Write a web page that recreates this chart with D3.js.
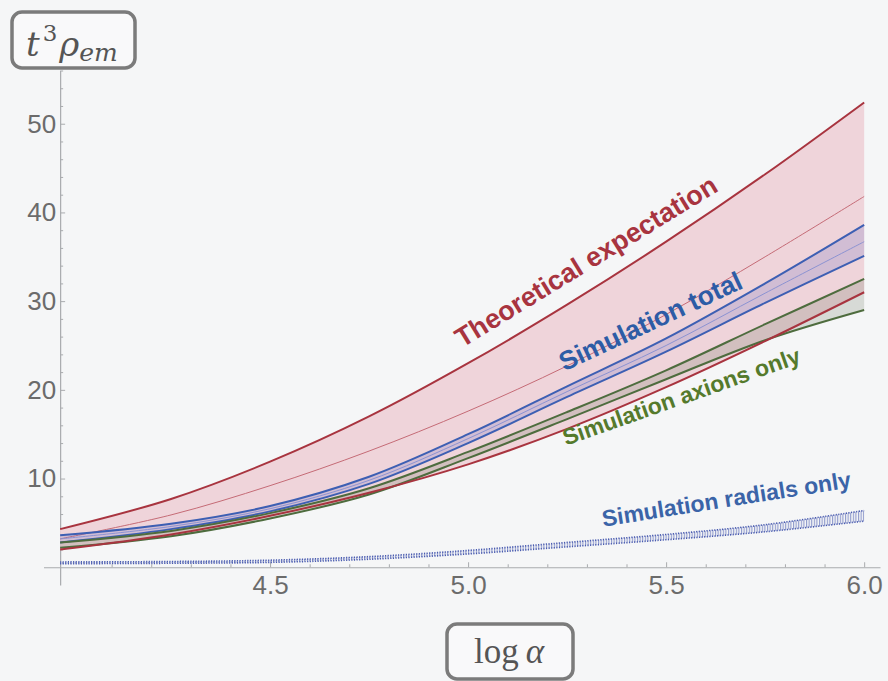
<!DOCTYPE html>
<html>
<head>
<meta charset="utf-8">
<script src="https://cdn.jsdelivr.net/npm/d3@7"></script>
<style>
  body { margin: 0; background: #f5f6f7; }
  svg { display: block; }
</style>
</head>
<body>
<div id="plot"></div>
<script>
// sample points along log(alpha)
var log_alpha = [3.97, 4.25, 4.5, 4.75, 5.0, 5.25, 5.5, 5.75, 6.0];

// theoretical expectation band (low / central / high)
var theory_low  = [2.0, 3.7, 5.8, 8.4, 11.6, 15.6, 20.3, 25.5, 31.0];
var theory_mid  = [3.2, 5.9, 9.2, 13.1, 17.6, 22.7, 28.5, 35.0, 41.8];
var theory_high = [4.3, 7.7, 11.9, 17.0, 23.0, 29.6, 36.7, 44.3, 52.4];

// simulation total
var total_low  = [2.8, 4.3, 6.3, 9.4, 14.0, 19.2, 24.3, 29.8, 35.1];
var total_mid  = [3.2, 4.6, 6.6, 9.8, 14.5, 19.8, 25.0, 30.9, 36.7];
var total_high = [3.6, 4.9, 6.9, 10.2, 15.0, 20.4, 25.8, 32.0, 38.6];

// simulation axions only
var axion_low  = [2.2, 3.5, 5.5, 8.2, 12.3, 16.7, 21.2, 25.6, 29.0];
var axion_high = [2.8, 4.1, 6.1, 8.9, 13.0, 17.5, 22.2, 27.4, 32.5];

// simulation radials only
var radial_low  = [0.4, 0.45, 0.55, 0.9, 1.5, 2.3, 3.1, 4.0, 5.2];
var radial_high = [0.6, 0.65, 0.8, 1.2, 1.9, 2.8, 3.7, 4.8, 6.4];

var x_ticks = [4.5, 5.0, 5.5, 6.0];
var y_ticks = [10, 20, 30, 40, 50];

// curve labels: text, position in data units, rotation
var labels = [
    {text: "Theoretical expectation", x: 5.31, y: 33.6, angle: -31.5, color: "#a8343f", size: 27},
    {text: "Simulation total",        x: 5.47, y: 26.8, angle: -25,   color: "#2d5ca6", size: 26.5},
    {text: "Simulation axions only",  x: 5.545, y: 18.4, angle: -19.5, color: "#557a2c", size: 23},
    {text: "Simulation radials only", x: 5.655, y: 6.8,  angle: -9,    color: "#3b64a8", size: 23}
];

var width = 888, height = 681;

var svg = d3.select("#plot").append("svg")
    .attr("width", width)
    .attr("height", height);

svg.append("rect")
    .attr("width", width).attr("height", height)
    .attr("fill", "#f5f6f7");

// scales (domains include the plot padding so the axis lines run past the data)
var x_scale = d3.scaleLinear()
    .domain([3.928, 6.04])
    .range([43.5, 880]);

var y_scale = d3.scaleLinear()
    .domain([-2, 56])
    .range([585, 70.5]);

// build point lists for a pair of series
function band(lo, hi) {
    return log_alpha.map(function(a, i) { return {x: a, lo: lo[i], hi: hi[i]}; });
}
function series(v) {
    return log_alpha.map(function(a, i) { return {x: a, y: v[i]}; });
}

var curve = d3.curveCatmullRom.alpha(0.5);

var area = d3.area()
    .x(function(d) { return x_scale(d.x); })
    .y0(function(d) { return y_scale(d.lo); })
    .y1(function(d) { return y_scale(d.hi); })
    .curve(curve);

var line = d3.line()
    .x(function(d) { return x_scale(d.x); })
    .y(function(d) { return y_scale(d.y); })
    .curve(curve);

// hatched pattern for the radial band
var defs = svg.append("defs");
defs.append("pattern")
    .attr("id", "hatch")
    .attr("width", 2.6).attr("height", 4)
    .attr("patternUnits", "userSpaceOnUse")
  .append("rect")
    .attr("width", 1.1).attr("height", 4)
    .attr("fill", "#5666b4");

//Axes
var x_axis = d3.axisBottom(x_scale)
    .tickValues(x_ticks)
    .tickFormat(d3.format(".1f"))
    .tickSizeInner(-5)
    .tickSizeOuter(0)
    .tickPadding(8);

var x_minor = d3.axisBottom(x_scale)
    .tickValues(d3.range(4.0, 6.01, 0.1).filter(function(v) { return Math.abs(v*2 - Math.round(v*2)) > 1e-6; }))
    .tickFormat("")
    .tickSizeInner(-3)
    .tickSizeOuter(0);

svg.append("g")
    .attr("transform", "translate(0," + y_scale(0) + ")")
    .call(x_axis);
svg.append("g")
    .attr("transform", "translate(0," + y_scale(0) + ")")
    .call(x_minor)
    .select(".domain").remove();

var y_axis = d3.axisLeft(y_scale)
    .tickValues(y_ticks)
    .tickSizeInner(-5)
    .tickSizeOuter(0)
    .tickPadding(4);

var y_minor = d3.axisLeft(y_scale)
    .tickValues(d3.range(0, 57, 2).filter(function(v) { return v % 10 !== 0; }))
    .tickFormat("")
    .tickSizeInner(-3)
    .tickSizeOuter(0);

svg.append("g")
    .attr("transform", "translate(" + x_scale(log_alpha[0]) + ",0)")
    .call(y_axis);
svg.append("g")
    .attr("transform", "translate(" + x_scale(log_alpha[0]) + ",0)")
    .call(y_minor)
    .select(".domain").remove();

svg.selectAll(".domain").attr("stroke", "#a9abae").attr("stroke-width", 1.2);
svg.selectAll(".tick line").attr("stroke", "#a9abae");
svg.selectAll(".tick text")
    .attr("fill", "#6b6b6b")
    .style("font-family", "'Liberation Sans', Arial, sans-serif")
    .style("font-size", "26px");

//Theoretical band
svg.append("path")
    .attr("d", area(band(theory_low, theory_high)))
    .attr("fill", "#efd4da");

svg.append("path")
    .attr("d", line(series(theory_mid)))
    .attr("fill", "none")
    .attr("stroke", "#c56b76")
    .attr("stroke-width", 1);

svg.append("path")
    .attr("d", line(series(theory_high)))
    .attr("fill", "none")
    .attr("stroke", "#a8343f")
    .attr("stroke-width", 2);

//Simulation total
svg.append("path")
    .attr("d", area(band(total_low, total_high)))
    .attr("fill", "#5a62c0")
    .attr("fill-opacity", 0.2);

[total_low, total_high].forEach(function(v) {
    svg.append("path")
        .attr("d", line(series(v)))
        .attr("fill", "none")
        .attr("stroke", "#3d5fb3")
        .attr("stroke-width", 2);
});

svg.append("path")
    .attr("d", line(series(total_mid)))
    .attr("fill", "none")
    .attr("stroke", "#8c93d2")
    .attr("stroke-width", 1);

//Simulation axions
svg.append("path")
    .attr("d", area(band(axion_low, axion_high)))
    .attr("fill", "#5d7055")
    .attr("fill-opacity", 0.2);

[axion_low, axion_high].forEach(function(v) {
    svg.append("path")
        .attr("d", line(series(v)))
        .attr("fill", "none")
        .attr("stroke", "#4e6c3e")
        .attr("stroke-width", 2);
});

// lower theory edge drawn last so it shows through the green band
svg.append("path")
    .attr("d", line(series(theory_low)))
    .attr("fill", "none")
    .attr("stroke", "#a8343f")
    .attr("stroke-width", 2);

//Simulation radials (hatched)
svg.append("path")
    .attr("d", area(band(radial_low, radial_high)))
    .attr("fill", "url(#hatch)")
    .attr("fill-opacity", 0.65);

[radial_low, radial_high].forEach(function(v) {
    svg.append("path")
        .attr("d", line(series(v)))
        .attr("fill", "none")
        .attr("stroke", "#4a5cb0")
        .attr("stroke-width", 1.6)
        .attr("stroke-dasharray", "1.2,1.4");
});

//Curve labels
svg.selectAll(".curve-label")
    .data(labels)
  .enter().append("text")
    .attr("class", "curve-label")
    .attr("transform", function(d) {
        return "translate(" + x_scale(d.x) + "," + y_scale(d.y) + ") rotate(" + d.angle + ")";
    })
    .attr("text-anchor", "middle")
    .attr("fill", function(d) { return d.color; })
    .style("font-family", "'Liberation Sans', Arial, sans-serif")
    .style("font-weight", "bold")
    .style("font-size", function(d) { return d.size + "px"; })
    .text(function(d) { return d.text; });

//Boxed axis labels
var serif = "'DejaVu Serif', 'Liberation Serif', serif";

svg.append("rect")
    .attr("x", 12).attr("y", 12)
    .attr("width", 123).attr("height", 56)
    .attr("rx", 10)
    .attr("fill", "#f9f9fa")
    .attr("stroke", "#7b7b7b")
    .attr("stroke-width", 3.5);

var ylab = svg.append("text")
    .attr("x", 26).attr("y", 56)
    .attr("fill", "#555")
    .style("font-family", serif)
    .style("font-style", "italic")
    .style("font-size", "34px");
ylab.append("tspan").text("t");
ylab.append("tspan").attr("dy", -15).attr("dx", 3).style("font-size", "23px").style("font-style", "normal").text("3");
ylab.append("tspan").attr("dy", 15).attr("dx", 2).text("\u03C1");
ylab.append("tspan").attr("dy", 5).style("font-size", "25px").text("em");

svg.append("rect")
    .attr("x", 447).attr("y", 624)
    .attr("width", 126).attr("height", 55)
    .attr("rx", 10)
    .attr("fill", "#f9f9fa")
    .attr("stroke", "#7b7b7b")
    .attr("stroke-width", 3.5);

var xlab = svg.append("text")
    .attr("x", 509).attr("y", 663)
    .attr("text-anchor", "middle")
    .attr("fill", "#555")
    .style("font-family", "'Liberation Serif', serif")
    .style("font-size", "35px");
xlab.append("tspan").text("log");
xlab.append("tspan").attr("dx", 7).style("font-style", "italic").text("\u03B1");
</script>
</body>
</html>
